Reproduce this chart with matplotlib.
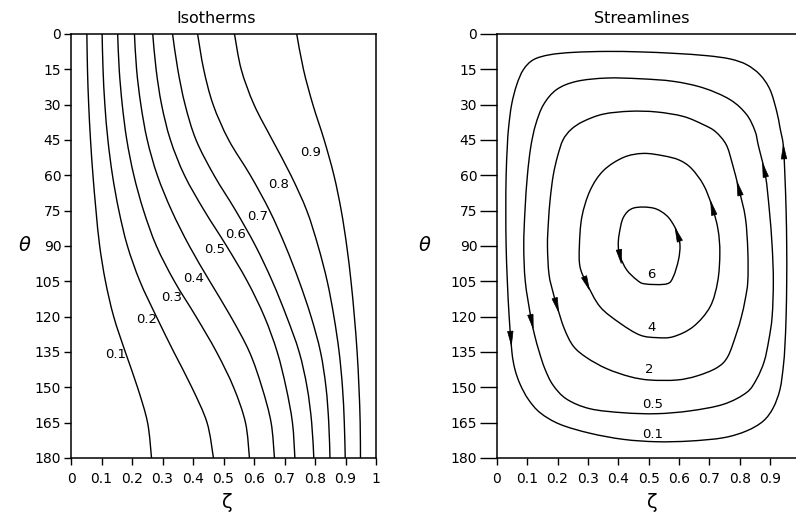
import numpy as np
import matplotlib
matplotlib.use("Agg")
import matplotlib.pyplot as plt
from matplotlib.path import Path
from matplotlib.patches import PathPatch, Polygon

plt.rcParams["font.family"] = ["DejaVu Sans"]

# axis ticks
theta_ticks = [0, 15, 30, 45, 60, 75, 90, 105, 120, 135, 150, 165, 180]
zeta_ticks = [0, 0.1, 0.2, 0.3, 0.4, 0.5, 0.6, 0.7, 0.8, 0.9, 1.0]
zeta_ticklabels = ["0", "0.1", "0.2", "0.3", "0.4", "0.5", "0.6", "0.7", "0.8", "0.9", "1"]

# isotherms: zeta position of each level at the theta stations
iso_theta = [0, 15, 30, 45, 60, 75, 90, 105, 120, 135, 150, 165, 180]
iso_01 = [.052, .054, .058, .064, .072, .082, .094, .113, .140, .178, .218, .251, .264]
iso_02 = [.102, .105, .111, .121, .136, .157, .185, .226, .280, .337, .396, .446, .467]
iso_03 = [.153, .158, .168, .183, .206, .238, .280, .339, .410, .477, .533, .572, .585]
iso_04 = [.208, .215, .229, .250, .283, .330, .388, .455, .524, .585, .626, .656, .667]
iso_05 = [.268, .279, .297, .326, .372, .437, .510, .578, .634, .676, .705, .726, .734]
iso_06 = [.333, .350, .374, .410, .469, .540, .605, .660, .707, .748, .774, .789, .796]
iso_07 = [.415, .435, .466, .517, .588, .651, .703, .748, .787, .818, .836, .845, .849]
iso_08 = [.536, .558, .600, .660, .721, .773, .810, .840, .862, .879, .890, .896, .899]
iso_09 = [.740, .762, .793, .830, .862, .886, .904, .918, .929, .938, .944, .948, .949]
iso_lines = [iso_01, iso_02, iso_03, iso_04, iso_05, iso_06, iso_07, iso_08, iso_09]
iso_labels = ["0.1", "0.2", "0.3", "0.4", "0.5", "0.6", "0.7", "0.8", "0.9"]
iso_label_zeta = [.146, .249, .331, .403, .472, .538, .611, .682, .787]
iso_label_theta = [136, 121.4, 112, 103.6, 91.7, 85.3, 77.3, 64, 50.5]

# streamlines: closed loops, listed in the direction of flow
psi_01_zeta = [.691, .581, .471, .362, .252, .175, .121, .088, .066, .049, .039, .035,
               .031, .030, .031, .035, .041, .050, .060, .077, .104, .143, .208, .307,
               .417, .526, .636, .746, .822, .877, .910, .932, .943, .948, .952, .954,
               .954, .952, .948, .943, .932, .921, .899, .866, .822, .768]
psi_01_theta = [9.2, 8.2, 7.6, 7.4, 7.8, 8.8, 10.9, 15.1, 21.5, 30, 39.9, 47.5,
                60, 75, 90, 105, 120, 135, 142.4, 148.7, 155.1, 160.8, 165.7, 169.5,
                172.1, 173.1, 172.8, 171.4, 168.5, 164.3, 158.6, 150.8, 140.9, 132.5, 120, 105,
                90, 75, 60, 47.5, 39.9, 32.8, 23.6, 17.3, 13.0, 10.6]

psi_05_zeta = [.680, .581, .471, .362, .263, .197, .154, .128, .112, .101, .093, .089,
               .094, .112, .125, .140, .158, .185, .230, .307, .417, .526, .636, .746,
               .822, .855, .880, .895, .906, .910, .906, .897, .884, .861, .850, .822,
               .768]
psi_05_theta = [22.9, 20.1, 19.0, 18.7, 20.1, 23.6, 30, 38.5, 48, 60, 75, 90,
                105, 120, 128, 135, 142, 149, 155, 159.1, 160.8, 161.2, 160, 157.2,
                152.2, 146.5, 139, 130, 120, 105, 90, 75, 60, 47.5, 41.3, 34.2,
                27.9]

psi_2_zeta = [.680, .614, .526, .439, .351, .285, .245, .218, .200, .186, .176, .170,
              .167, .172, .186, .197, .222, .252, .296, .362, .439, .504, .592, .658,
              .724, .760, .789, .805, .817, .826, .826, .818, .797, .775, .755, .720]
psi_2_theta = [38.5, 35, 33.1, 32.8, 34, 37.1, 40.5, 45, 52, 60, 70, 80,
               90, 102, 110, 115, 125, 132.5, 137.4, 142.1, 145.5, 146.9, 146.9, 145.2,
               141.7, 137, 127, 120, 113, 105, 92, 78, 66, 55, 47, 41.5]

psi_4_zeta = [.548, .482, .417, .351, .307, .280, .272, .274, .296, .340, .406, .471,
              .526, .581, .647, .702, .727, .734, .728, .708, .680, .640, .600]
psi_4_theta = [51.7, 50.7, 52.4, 58, 66.5, 77.8, 90, 98.8, 105.8, 115.8, 122.8, 127.8,
               128.9, 128.5, 124.2, 115.8, 105, 93, 83, 73, 64, 57, 53.5]

psi_6_zeta = [.515, .450, .417, .403, .400, .406, .428, .461, .488, .559, .581, .598,
              .603, .597, .586, .559]
psi_6_theta = [73.9, 73.9, 77.8, 84.9, 90, 94.5, 100.2, 104.4, 106.1, 106.1, 103, 95.9,
               90, 86, 82, 77.1]

psi_loops = [(psi_01_zeta, psi_01_theta), (psi_05_zeta, psi_05_theta),
             (psi_2_zeta, psi_2_theta), (psi_4_zeta, psi_4_theta),
             (psi_6_zeta, psi_6_theta)]
psi_labels = ["0.1", "0.5", "2", "4", "6"]
psi_label_zeta = [.513, .513, .502, .51, .51]
psi_label_theta = [169.9, 157.5, 142.6, 124.5, 102.3]
# arrowheads: one rising on the right, one falling on the left of every loop
arrow_right_zeta = [.953, .883, .800, .707, .592]
arrow_right_theta = [50, 57.7, 65.5, 74, 85.3]
arrow_left_zeta = [.044, .115, .197, .296, .406]
arrow_left_theta = [129.2, 122.1, 115, 105.8, 94.5]


def smooth_path(x, y, closed=False):
    pts = np.column_stack([x, y]).astype(float)
    if closed:
        ext = np.vstack([pts[-1], pts, pts[0], pts[1]])
    else:
        ext = np.vstack([pts[0], pts, pts[-1]])
    verts = [ext[1]]
    codes = [Path.MOVETO]
    for i in range(1, len(ext) - 2):
        p0, p1, p2, p3 = ext[i - 1], ext[i], ext[i + 1], ext[i + 2]
        verts += [p1 + (p2 - p0) / 6, p2 - (p3 - p1) / 6, p2]
        codes += [Path.CURVE4] * 3
    return Path(verts, codes)


def add_arrow(ax, x, y, az, at, length=14, width=5.5):
    pts = ax.transData.transform(np.column_stack([x, y]))
    p = ax.transData.transform((az, at))
    a = pts
    b = np.roll(pts, -1, axis=0)
    ab = b - a
    t = np.clip(((p - a) * ab).sum(1) / (ab * ab).sum(1), 0, 1)
    proj = a + ab * t[:, None]
    k = np.argmin(np.hypot(*(proj - p).T))
    d = ab[k] / np.hypot(*ab[k])
    c = proj[k]
    n = np.array([-d[1], d[0]])
    tri = np.array([c + d * length / 2,
                    c - d * length / 2 + n * width / 2,
                    c - d * length / 2 - n * width / 2])
    ax.add_patch(Polygon(ax.transData.inverted().transform(tri), closed=True,
                         fc="k", ec="k", lw=0.5))


def style_axes(ax, title, nticks, ylen, theta_x):
    ax.set_xlim(0, 1)
    ax.set_ylim(180, 0)
    ax.set_xticks(zeta_ticks[:nticks])
    ax.set_xticklabels(zeta_ticklabels[:nticks])
    ax.set_yticks(theta_ticks)
    ax.tick_params(axis="x", direction="out", length=5, width=1, labelsize=10, pad=5)
    ax.tick_params(axis="y", direction="out", length=ylen, width=1, labelsize=10, pad=2)
    for s in ax.spines.values():
        s.set_linewidth(1.1)
    ax.set_title(title, fontsize=11.5, x=0.476, pad=8)
    ax.text(0.513, -0.104, "ζ", transform=ax.transAxes, ha="center", va="center",
            fontsize=14)
    ax.text(theta_x, 0.5, "θ", transform=ax.transAxes, ha="center", va="center",
            fontsize=14, style="italic")


fig = plt.figure(figsize=(7.96, 5.12), dpi=100)
ax1 = fig.add_axes([0.0892, 0.1055, 0.3832, 0.8281])
ax2 = fig.add_axes([0.624, 0.1055, 0.3819, 0.8281])

style_axes(ax1, "Isotherms", 11, 5, -0.151)
style_axes(ax2, "Streamlines", 10, 12, -0.239)

# isotherms
for zeta, lab, lz, lt in zip(iso_lines, iso_labels, iso_label_zeta, iso_label_theta):
    ax1.add_patch(PathPatch(smooth_path(zeta, iso_theta), fill=False, ec="k", lw=1.0))
    ax1.text(lz, lt, lab, ha="center", va="center", fontsize=9.5)

# streamlines
for (zeta, theta), lab, lz, lt in zip(psi_loops, psi_labels, psi_label_zeta, psi_label_theta):
    ax2.add_patch(PathPatch(smooth_path(zeta, theta, closed=True), fill=False, ec="k", lw=1.0))
    ax2.text(lz, lt, lab, ha="center", va="center", fontsize=9.5)

for i, (zeta, theta) in enumerate(psi_loops):
    add_arrow(ax2, zeta, theta, arrow_right_zeta[i], arrow_right_theta[i])
    add_arrow(ax2, zeta, theta, arrow_left_zeta[i], arrow_left_theta[i])

fig.savefig("out.png", dpi=100)
